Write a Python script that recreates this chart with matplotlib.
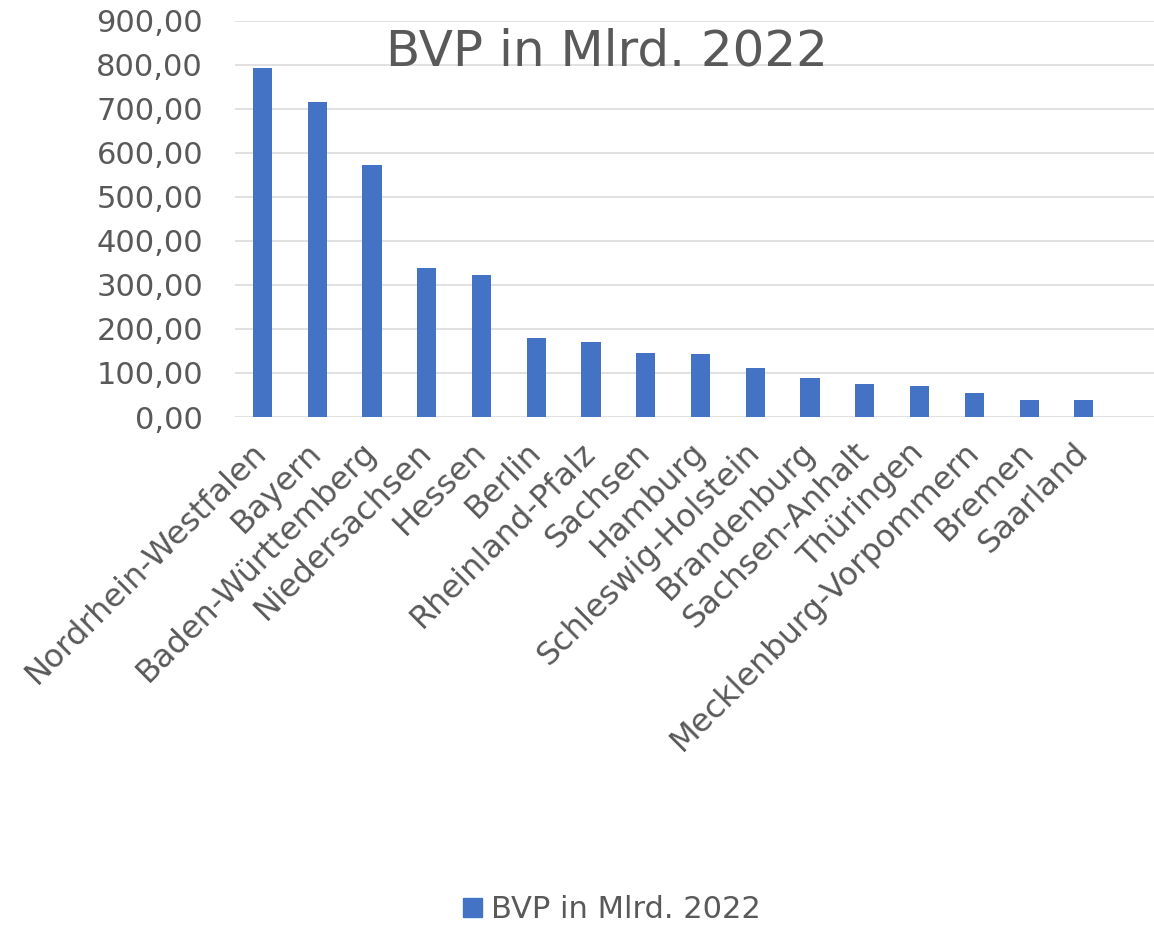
import matplotlib.pyplot as plt
from matplotlib.patches import Patch

# Data
laender = ['Nordrhein-Westfalen', 'Bayern', 'Baden-Württemberg', 'Niedersachsen',
           'Hessen', 'Berlin', 'Rheinland-Pfalz', 'Sachsen', 'Hamburg',
           'Schleswig-Holstein', 'Brandenburg', 'Sachsen-Anhalt', 'Thüringen',
           'Mecklenburg-Vorpommern', 'Bremen', 'Saarland']
bvp = [793.8, 716.8, 572.8, 339.4, 323.4, 179.4, 171.5, 146.4, 144.1,
       112.4, 88.8, 74.9, 70.7, 54.2, 38.8, 39.4]
y_ticks = [0, 100, 200, 300, 400, 500, 600, 700, 800, 900]

grey = '#595959'
blue = '#4472C4'

fig = plt.figure(figsize=(11.54, 9.26), dpi=100)
ax = fig.add_axes([235 / 1154, 509 / 926, 1 - 235 / 1154, 396 / 926])

ax.bar(range(len(laender)), bvp, width=0.35, color=blue, zorder=3)

ax.set_ylim(0, 900)
ax.set_xlim(-0.5, 16.28)
ax.set_yticks(y_ticks)
ax.set_yticklabels(['%d,00' % v for v in y_ticks])
ax.yaxis.grid(True, color='#D9D9D9', linewidth=1.1, zorder=0)
ax.set_xticks(range(len(laender)))
ax.set_xticklabels(laender, rotation=45, ha='right', va='center',
                   rotation_mode='anchor')
ax.tick_params(axis='y', length=0, pad=23, labelsize=22, labelcolor=grey)
ax.tick_params(axis='x', length=0, pad=22, labelsize=23, labelcolor=grey)
for s in ax.spines.values():
    s.set_visible(False)

# Title
fig.text(607 / 1154, 1 - 52 / 926, 'BVP in Mlrd. 2022', fontsize=36,
         color=grey, ha='center', va='center')

# Legend
fig.legend(handles=[Patch(color=blue, label='BVP in Mlrd. 2022')],
           loc='center', bbox_to_anchor=(612 / 1154, 1 - 910 / 926),
           frameon=False, fontsize=22, labelcolor=grey,
           handlelength=0.6, handleheight=0.6, handletextpad=0.3)

fig.savefig('out.png', dpi=100)
